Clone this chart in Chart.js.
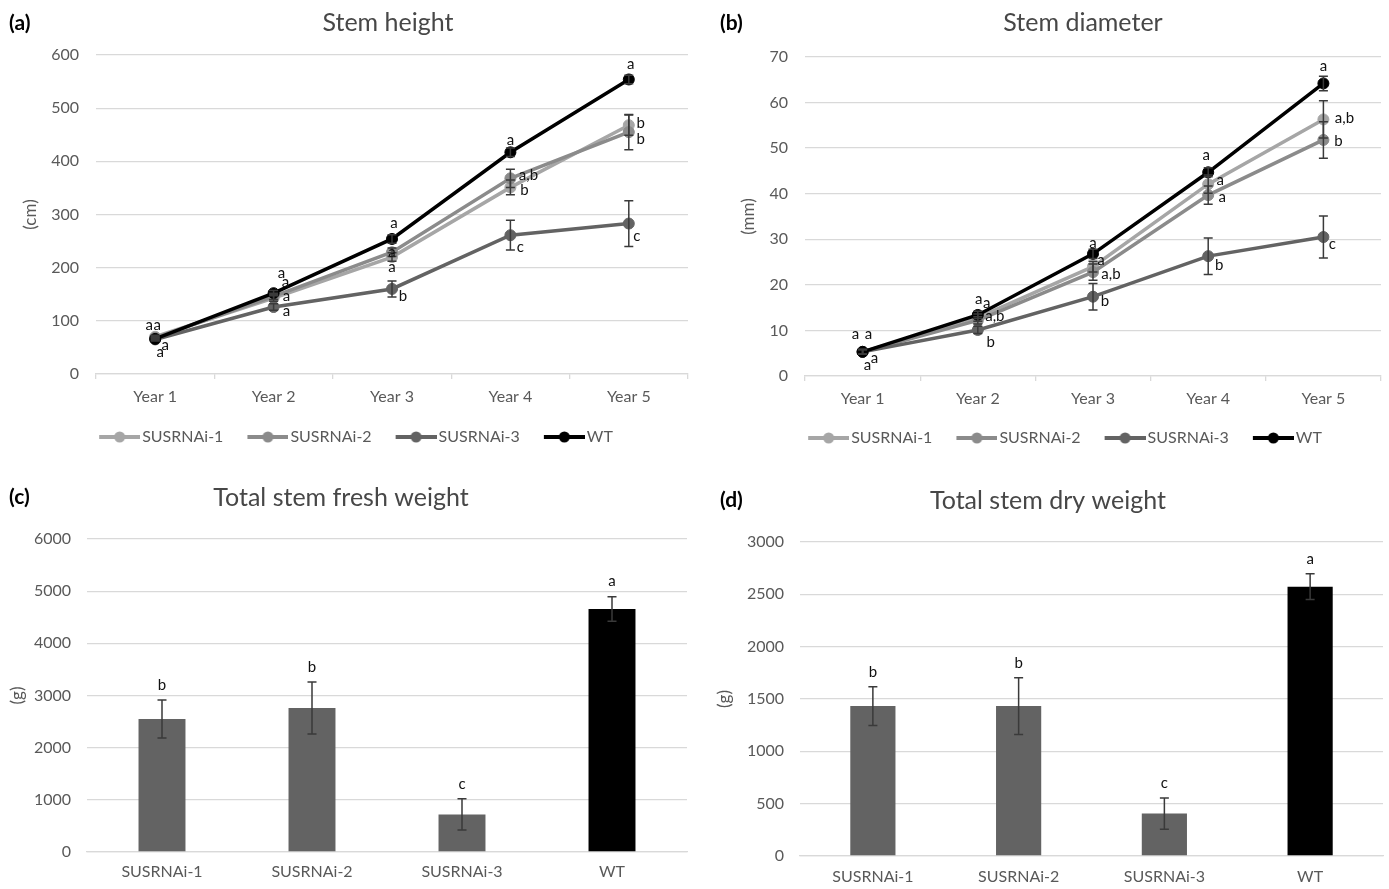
<!DOCTYPE html>
<html><head><meta charset="utf-8">
<script src="https://cdn.jsdelivr.net/npm/chart.js@4.4.1/dist/chart.umd.min.js"></script>
<style>
html,body{margin:0;padding:0;background:#fff;}
body{width:1389px;height:889px;position:relative;overflow:hidden;}
canvas{position:absolute;}
</style></head><body>
<canvas id="cA" width="700" height="470" style="left:0;top:0"></canvas>
<canvas id="cB" width="689" height="470" style="left:700px;top:0"></canvas>
<canvas id="cC" width="700" height="419" style="left:0;top:470px"></canvas>
<canvas id="cD" width="689" height="419" style="left:700px;top:470px"></canvas>
<script>
// ---------- data ----------
const years = ['Year 1', 'Year 2', 'Year 3', 'Year 4', 'Year 5'];
const lines = ['SUSRNAi-1', 'SUSRNAi-2', 'SUSRNAi-3', 'WT'];

// (a) Stem height (cm)
const heightS1 = [70, 143, 220, 351, 468];
const heightS2 = [68, 146, 229, 368, 455];
const heightS3 = [65, 126, 160, 261, 283];
const heightWT = [66, 152, 254, 417, 554];
const heightErrS1 = [3, 6, 8, 14, 19];
const heightErrS2 = [3, 6, 8, 17, 33];
const heightErrS3 = [3, 6, 15, 28, 43];
const heightErrWT = [3, 5, 8, 8, 8];
const heightLetS1 = ['a', 'a', 'a', 'b', 'b'];
const heightLetS2 = ['a', 'a', 'a', 'a,b', 'b'];
const heightLetS3 = ['a', 'a', 'b', 'c', 'c'];
const heightLetWT = ['a', 'a', 'a', 'a', 'a'];
const heightTicks = [0, 100, 200, 300, 400, 500, 600];

// (b) Stem diameter (mm)
const diamS1 = [5.3, 12.8, 24.0, 42.1, 56.3];
const diamS2 = [5.3, 12.2, 22.8, 39.7, 51.8];
const diamS3 = [5.3, 10.1, 17.4, 26.3, 30.5];
const diamWT = [5.3, 13.4, 26.8, 44.7, 64.2];
const diamErrS1 = [0.5, 0.8, 1.2, 2.0, 4.1];
const diamErrS2 = [0.5, 0.8, 1.8, 2.0, 4.0];
const diamErrS3 = [0.5, 0.8, 2.9, 4.0, 4.6];
const diamErrWT = [0.5, 0.8, 1.0, 1.0, 1.6];
const diamLetS1 = ['a', 'a', 'a', 'a', 'a,b'];
const diamLetS2 = ['a', 'a,b', 'a,b', 'a', 'b'];
const diamLetS3 = ['a', 'b', 'b', 'b', 'c'];
const diamLetWT = ['a', 'a', 'a', 'a', 'a'];
const diamTicks = [0, 10, 20, 30, 40, 50, 60, 70];

// (c) Total stem fresh weight (g)
const freshWeight = [2550, 2760, 720, 4660];
const freshErr = [365, 500, 300, 235];
const freshLet = ['b', 'b', 'c', 'a'];
const freshTicks = [0, 1000, 2000, 3000, 4000, 5000, 6000];

// (d) Total stem dry weight (g)
const dryWeight = [1432, 1432, 405, 2573];
const dryErr = [185, 270, 150, 123];
const dryLet = ['b', 'b', 'c', 'a'];
const dryTicks = [0, 500, 1000, 1500, 2000, 2500, 3000];

// ---------- style ----------
const FONT = 'Lato, "Open Sans", sans-serif';
const TXT = '#595959';
const GRID = '#d9d9d9';
const COL = ['#a6a6a6', '#8b8b8b', '#636363', '#000000'];
Chart.defaults.font.family = FONT;

// label offsets (pixels relative to the point) for the letter annotations
const offA = [
  [[-6,-12],[12,-16],[0,10],[14,3],[12,-2]],
  [[2,-13],[13,0],[0,0],[18,-3],[12,7]],
  [[10,6],[13,4],[11,7],[10,12],[8,13]],
  [[5,13],[8,-20],[2,-16],[0,-12],[2,-15]]
];
const offB = [
  [[-7,-18],[9,-15],[8,-6],[12,-4],[21,-1]],
  [[6,-18],[17,-4],[18,2],[14,2],[15,1]],
  [[5,13],[13,12],[12,4],[11,9],[9,7]],
  [[12,6],[1,-16],[0,-11],[-2,-17],[0,-17]]
];

function legendMarker(color) {
  const c = document.createElement('canvas');
  c.width = 53; c.height = 14;
  const g = c.getContext('2d');
  g.strokeStyle = color; g.lineWidth = 4; g.lineCap = 'butt';
  g.beginPath(); g.moveTo(12, 7); g.lineTo(53, 7); g.stroke();
  g.fillStyle = color; g.beginPath(); g.arc(32.5, 7, 5.5, 0, Math.PI * 2); g.fill();
  return c;
}
const markers = COL.map(legendMarker);

const annotPlugin = {
  id: 'annot',
  afterDatasetsDraw(chart, args, opts) {
    const ctx = chart.ctx, ys = chart.scales.y;
    chart.data.datasets.forEach((ds, i) => {
      if (!ds.errors) return;
      const meta = chart.getDatasetMeta(i);
      ctx.save();
      ctx.strokeStyle = '#3a3a3a'; ctx.lineWidth = 1.5;
      meta.data.forEach((el, j) => {
        const v = ds.data[j], e = ds.errors[j];
        const yt = ys.getPixelForValue(v + e), yb = ys.getPixelForValue(v - e);
        const x = el.x, c = 4.5;
        ctx.beginPath();
        ctx.moveTo(x, yt); ctx.lineTo(x, yb);
        ctx.moveTo(x - c, yt); ctx.lineTo(x + c, yt);
        ctx.moveTo(x - c, yb); ctx.lineTo(x + c, yb);
        ctx.stroke();
      });
      ctx.restore();
    });
  },
  afterDraw(chart, args, opts) {
    const ctx = chart.ctx, ys = chart.scales.y;
    ctx.save();
    ctx.textAlign = 'center'; ctx.textBaseline = 'middle';
    // letters
    ctx.fillStyle = '#111';
    ctx.font = '15px ' + FONT;
    chart.data.datasets.forEach((ds, i) => {
      if (!ds.letters) return;
      const meta = chart.getDatasetMeta(i);
      meta.data.forEach((el, j) => {
        let x, y;
        if (opts.offsets) {
          x = el.x + opts.offsets[i][j][0];
          y = el.y + opts.offsets[i][j][1];
        } else {
          x = el.x;
          y = ys.getPixelForValue(ds.data[j] + ds.errors[j]) - opts.barGap;
        }
        ctx.fillText(ds.letters[j], x, y);
      });
    });
    // title
    ctx.fillStyle = '#474747';
    ctx.font = '25px ' + FONT;
    ctx.fillText(opts.title, opts.titleX, opts.titleY);
    // panel tag
    ctx.fillStyle = '#000';
    ctx.font = 'bold 21px ' + FONT;
    ctx.textAlign = 'left';
    ctx.fillText(opts.tag, opts.tagX, opts.tagY);
    ctx.restore();
  }
};

const plainNum = v => String(v);

function lineChart(id, series, errs, lets, ticks, yTitle, lay, annot) {
  const datasets = series.map((d, i) => ({
    label: lines[i], data: d, errors: errs[i], letters: lets[i],
    borderColor: COL[i], backgroundColor: COL[i], pointBackgroundColor: COL[i],
    pointBorderColor: COL[i], borderWidth: 3.5, pointRadius: 5.5, pointBorderWidth: 1,
    order: 3 - i, tension: 0
  }));
  return new Chart(document.getElementById(id), {
    type: 'line',
    data: { labels: years, datasets },
    plugins: [annotPlugin],
    options: {
      responsive: false, animation: false,
      layout: { padding: lay.pad },
      scales: {
        x: {
          offset: true,
          grid: { display: true, drawOnChartArea: false, drawTicks: true, tickLength: 5, offset: true, color: GRID, lineWidth: 1.3 },
          border: { display: true, color: GRID, width: 1.3 },
          ticks: { color: TXT, font: { family: FONT, size: 16 }, padding: lay.xPad, maxRotation: 0, autoSkip: false },
          afterFit: s => { s.height = lay.xH; }
        },
        y: {
          min: ticks[0], max: ticks[ticks.length - 1],
          afterBuildTicks: s => { s.ticks = ticks.map(v => ({ value: v })); },
          ticks: { color: TXT, font: { family: FONT, size: 16 }, padding: 17, callback: plainNum },
          grid: { color: GRID, lineWidth: 1.3, drawTicks: false },
          border: { display: false },
          title: { display: true, text: yTitle, color: TXT, font: { family: FONT, size: 17 }, padding: { top: lay.tPad, bottom: 0 } },
          afterFit: s => { s.width = lay.yW; }
        }
      },
      plugins: {
        tooltip: { enabled: false },
        legend: {
          position: 'bottom',
          labels: {
            usePointStyle: true, pointStyleWidth: 41, padding: 18,
            color: TXT, font: { family: FONT, size: 16 },
            sort: (a, b) => a.datasetIndex - b.datasetIndex,
            generateLabels: chart => Chart.defaults.plugins.legend.labels.generateLabels(chart).map(it => {
              it.pointStyle = markers[it.datasetIndex]; return it;
            })
          }
        },
        annot
      }
    }
  });
}

function barChart(id, vals, errs, lets, ticks, lay, annot) {
  return new Chart(document.getElementById(id), {
    type: 'bar',
    data: {
      labels: lines,
      datasets: [{
        data: vals, errors: errs, letters: lets,
        backgroundColor: ['#636363', '#636363', '#636363', '#000000'],
        categoryPercentage: 1, barPercentage: lay.bp
      }]
    },
    plugins: [annotPlugin],
    options: {
      responsive: false, animation: false,
      layout: { padding: lay.pad },
      scales: {
        x: {
          grid: { display: true, drawOnChartArea: false, drawTicks: false },
          border: { display: true, color: GRID, width: 1.3 },
          ticks: { color: TXT, font: { family: FONT, size: 16 }, padding: lay.xPad, maxRotation: 0, autoSkip: false },
          afterFit: s => { s.height = lay.xH; }
        },
        y: {
          min: ticks[0], max: ticks[ticks.length - 1],
          afterBuildTicks: s => { s.ticks = ticks.map(v => ({ value: v })); },
          ticks: { color: TXT, font: { family: FONT, size: 16 }, padding: 16, callback: plainNum },
          grid: { color: GRID, lineWidth: 1.3, drawTicks: false },
          border: { display: false },
          title: { display: true, text: '(g)', color: TXT, font: { family: FONT, size: 17 }, padding: { top: lay.tPad, bottom: 0 } },
          afterFit: s => { s.width = lay.yW; }
        }
      },
      plugins: { tooltip: { enabled: false }, legend: { display: false }, annot }
    }
  });
}

lineChart('cA', [heightS1, heightS2, heightS3, heightWT],
  [heightErrS1, heightErrS2, heightErrS3, heightErrWT],
  [heightLetS1, heightLetS2, heightLetS3, heightLetWT], heightTicks, '(cm)',
  { pad: { left: 18, right: 12, top: 55, bottom: 15 }, yW: 78, xH: 37, xPad: 8, tPad: 2 },
  { title: 'Stem height', titleX: 388, titleY: 23, tag: '(a)', tagX: 9, tagY: 23, offsets: offA });

lineChart('cB', [diamS1, diamS2, diamS3, diamWT],
  [diamErrS1, diamErrS2, diamErrS3, diamErrWT],
  [diamLetS1, diamLetS2, diamLetS3, diamLetWT], diamTicks, '(mm)',
  { pad: { left: 43, right: 8, top: 57, bottom: 14 }, yW: 62, xH: 36, xPad: 8, tPad: -5 },
  { title: 'Stem diameter', titleX: 383, titleY: 23, tag: '(b)', tagX: 20, tagY: 23, offsets: offB });

barChart('cC', freshWeight, freshErr, freshLet, freshTicks,
  { pad: { left: 0, right: 13, top: 69, bottom: 0 }, yW: 87, xH: 37, xPad: 10, tPad: 7, bp: 0.313 },
  { title: 'Total stem fresh weight', titleX: 341, titleY: 28, tag: '(c)', tagX: 9, tagY: 27, barGap: 15 });

barChart('cD', dryWeight, dryErr, dryLet, dryTicks,
  { pad: { left: 0, right: 6, top: 72, bottom: 0 }, yW: 100, xH: 33, xPad: 11, tPad: 14, bp: 0.31 },
  { title: 'Total stem dry weight', titleX: 348, titleY: 31, tag: '(d)', tagX: 20, tagY: 30, barGap: 15 });
</script>
</body></html>
